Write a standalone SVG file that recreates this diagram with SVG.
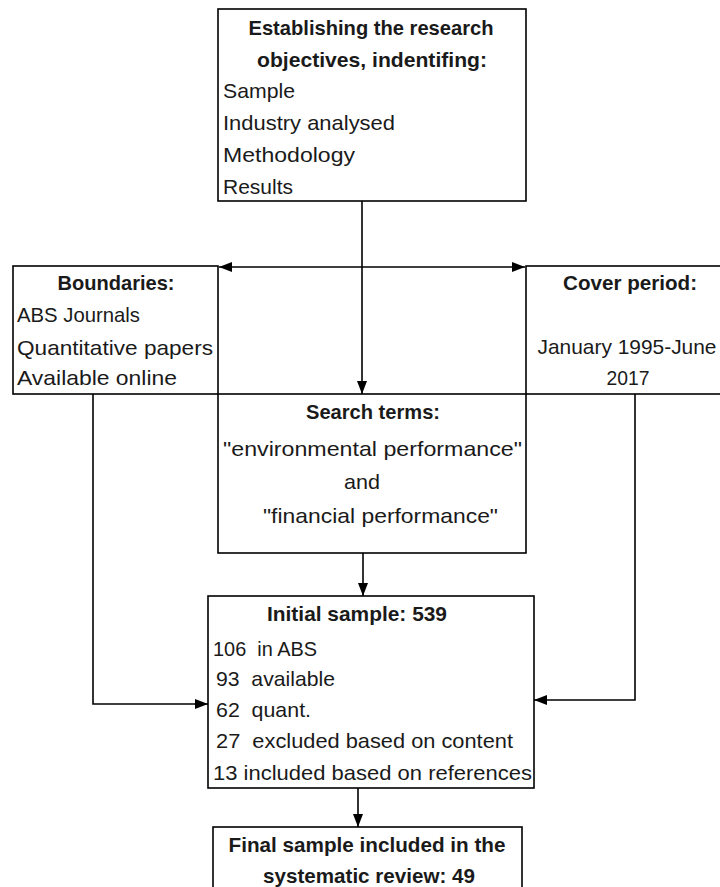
<svg xmlns="http://www.w3.org/2000/svg" width="720" height="887" viewBox="0 0 720 887">
<style>
.box{fill:#fff;stroke:#000;stroke-width:1.6}
.t{font-family:"Liberation Sans",Arial,sans-serif;font-size:21px;fill:#1a1a1a;white-space:pre}
.b{font-weight:bold}
.c{text-anchor:middle}
.ln{fill:none;stroke:#000;stroke-width:1.6}
</style>
<defs>
<marker id="ah" markerUnits="userSpaceOnUse" markerWidth="14" markerHeight="12" refX="13" refY="5" orient="auto">
<path d="M0,0 L13,5 L0,10 z" fill="#000"/>
</marker>
</defs>
<g id="objectives">
<rect class="box" x="218" y="9" width="308" height="192"/>
<text class="t b c" x="371" y="35" textLength="245" lengthAdjust="spacingAndGlyphs">Establishing the research</text>
<text class="t b c" x="372" y="67" textLength="230" lengthAdjust="spacingAndGlyphs">objectives, indentifing:</text>
<text class="t" x="223" y="98" textLength="72" lengthAdjust="spacingAndGlyphs">Sample</text>
<text class="t" x="223" y="130" textLength="172" lengthAdjust="spacingAndGlyphs">Industry analysed</text>
<text class="t" x="223" y="162" textLength="132" lengthAdjust="spacingAndGlyphs">Methodology</text>
<text class="t" x="223" y="194" textLength="70" lengthAdjust="spacingAndGlyphs">Results</text>
</g>
<g id="boundaries">
<rect class="box" x="13" y="266" width="205" height="128"/>
<text class="t b c" x="116" y="290" textLength="117" lengthAdjust="spacingAndGlyphs">Boundaries:</text>
<text class="t" x="17" y="322" textLength="123" lengthAdjust="spacingAndGlyphs">ABS Journals</text>
<text class="t" x="17" y="355" textLength="196" lengthAdjust="spacingAndGlyphs">Quantitative papers</text>
<text class="t" x="17" y="385" textLength="160" lengthAdjust="spacingAndGlyphs">Available online</text>
</g>
<g id="cover">
<rect class="box" x="526" y="266" width="210" height="128"/>
<text class="t b c" x="630" y="290" textLength="134" lengthAdjust="spacingAndGlyphs">Cover period:</text>
<text class="t c" x="627" y="354" textLength="179" lengthAdjust="spacingAndGlyphs">January 1995-June</text>
<text class="t c" x="628" y="385" textLength="43" lengthAdjust="spacingAndGlyphs">2017</text>
</g>
<g id="search">
<rect class="box" x="218" y="394" width="308" height="159"/>
<text class="t b c" x="373" y="419" textLength="134" lengthAdjust="spacingAndGlyphs">Search terms:</text>
<text class="t" x="223" y="456" textLength="299" lengthAdjust="spacingAndGlyphs">"environmental performance"</text>
<text class="t" x="344" y="489" textLength="36" lengthAdjust="spacingAndGlyphs">and</text>
<text class="t" x="263" y="523" textLength="235" lengthAdjust="spacingAndGlyphs">"financial performance"</text>
</g>
<g id="initial">
<rect class="box" x="208" y="596" width="326" height="192"/>
<text class="t b" x="267" y="621" textLength="180" lengthAdjust="spacingAndGlyphs">Initial sample: 539</text>
<text class="t" x="213" y="656" textLength="104" lengthAdjust="spacingAndGlyphs" xml:space="preserve">106  in ABS</text>
<text class="t" x="216" y="686" textLength="119" lengthAdjust="spacingAndGlyphs" xml:space="preserve">93  available</text>
<text class="t" x="216" y="717" textLength="95" lengthAdjust="spacingAndGlyphs" xml:space="preserve">62  quant.</text>
<text class="t" x="216" y="748" textLength="297" lengthAdjust="spacingAndGlyphs" xml:space="preserve">27  excluded based on content</text>
<text class="t" x="213" y="780" textLength="319" lengthAdjust="spacingAndGlyphs">13 included based on references</text>
</g>
<g id="final">
<rect class="box" x="213" y="827" width="309" height="80"/>
<text class="t b c" x="367" y="852" textLength="277" lengthAdjust="spacingAndGlyphs">Final sample included in the</text>
<text class="t b c" x="369" y="883" textLength="212" lengthAdjust="spacingAndGlyphs">systematic review: 49</text>
</g>
<g id="connectors">
<line class="ln" x1="362" y1="201" x2="362" y2="394" marker-end="url(#ah)"/>
<line class="ln" x1="362" y1="267" x2="219" y2="267" marker-end="url(#ah)"/>
<line class="ln" x1="362" y1="267" x2="525" y2="267" marker-end="url(#ah)"/>
<line class="ln" x1="363" y1="553" x2="363" y2="596" marker-end="url(#ah)"/>
<polyline class="ln" points="93,394 93,704 208,704" marker-end="url(#ah)"/>
<polyline class="ln" points="635,394 635,700 534,700" marker-end="url(#ah)"/>
<line class="ln" x1="358" y1="788" x2="358" y2="827" marker-end="url(#ah)"/>
</g>
</svg>
